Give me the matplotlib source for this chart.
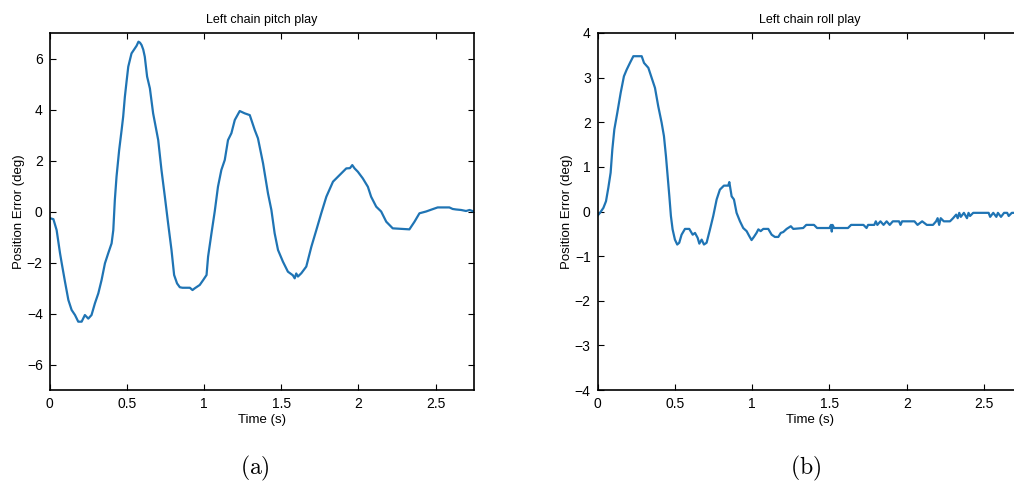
import matplotlib
matplotlib.use("Agg")
import matplotlib.pyplot as plt

plt.rcParams['font.family'] = ['Liberation Sans', 'DejaVu Sans']
plt.rcParams['mathtext.fontset'] = 'cm'

# pitch play (a)
pitch_t = [0.006, 0.024, 0.045, 0.067, 0.078, 0.099, 0.121, 0.142, 0.164, 0.185,
           0.207, 0.228, 0.25, 0.271, 0.293, 0.315, 0.336, 0.358, 0.379, 0.401,
           0.412, 0.422, 0.433, 0.45, 0.466, 0.476, 0.487, 0.498, 0.509, 0.53,
           0.552, 0.563, 0.575, 0.585, 0.595, 0.606, 0.616, 0.631, 0.649, 0.67,
           0.703, 0.724, 0.746, 0.767, 0.789, 0.806, 0.825, 0.843, 0.86, 0.908,
           0.925, 0.94, 0.972, 0.994, 1.016, 1.026, 1.048, 1.069, 1.09, 1.112,
           1.134, 1.155, 1.177, 1.199, 1.231, 1.263, 1.296, 1.328, 1.349, 1.382,
           1.414, 1.436, 1.457, 1.479, 1.511, 1.543, 1.575, 1.587, 1.597, 1.608,
           1.63, 1.662, 1.695, 1.727, 1.759, 1.792, 1.835, 1.878, 1.921, 1.945,
           1.96, 1.975, 1.996, 2.028, 2.061, 2.082, 2.115, 2.147, 2.18, 2.222,
           2.33, 2.363, 2.395, 2.438, 2.475, 2.513, 2.589, 2.61, 2.632, 2.665,
           2.697, 2.72, 2.747]
pitch_v = [-0.27, -0.3, -0.73, -1.64, -2.03, -2.75, -3.47, -3.86, -4.06, -4.32,
           -4.32, -4.06, -4.2, -4.06, -3.6, -3.21, -2.69, -2.03, -1.64, -1.25,
           -0.73, 0.45, 1.37, 2.41, 3.2, 3.72, 4.5, 5.1, 5.68, 6.2,
           6.4, 6.5, 6.66, 6.62, 6.53, 6.35, 6.07, 5.29, 4.83, 3.85,
           2.8, 1.63, 0.58, -0.46, -1.51, -2.49, -2.82, -2.97, -2.99, -2.99,
           -3.08, -3.01, -2.88, -2.69, -2.49, -1.77, -0.85, 0.0, 0.97, 1.63,
           2.02, 2.8, 3.07, 3.59, 3.94, 3.85, 3.78, 3.2, 2.87, 1.89,
           0.71, 0.06, -0.85, -1.51, -1.97, -2.36, -2.5, -2.62, -2.43, -2.55,
           -2.42, -2.16, -1.38, -0.73, -0.07, 0.58, 1.17, 1.43, 1.69, 1.7,
           1.82, 1.69, 1.56, 1.3, 0.97, 0.58, 0.19, 0.0, -0.4, -0.66,
           -0.7, -0.4, -0.07, 0.0, 0.08, 0.16, 0.16, 0.1, 0.08, 0.06,
           0.02, 0.06, 0.0]

# roll play (b)
roll_t = [0.0, 0.015, 0.037, 0.054, 0.069, 0.084, 0.095, 0.108, 0.127, 0.149,
          0.17, 0.188, 0.209, 0.231, 0.285, 0.3, 0.328, 0.35, 0.371, 0.392,
          0.414, 0.429, 0.442, 0.453, 0.464, 0.474, 0.485, 0.5, 0.515, 0.528,
          0.543, 0.565, 0.593, 0.615, 0.63, 0.647, 0.658, 0.673, 0.688, 0.705,
          0.727, 0.748, 0.77, 0.791, 0.817, 0.845, 0.852, 0.867, 0.882, 0.899,
          0.921, 0.942, 0.964, 0.981, 0.996, 1.011, 1.028, 1.04, 1.055, 1.072,
          1.104, 1.126, 1.147, 1.169, 1.185, 1.201, 1.223, 1.25, 1.266, 1.33,
          1.35, 1.40, 1.42, 1.50, 1.51, 1.515, 1.52, 1.53, 1.62, 1.64,
          1.72, 1.74, 1.75, 1.79, 1.80, 1.81, 1.83, 1.85, 1.87, 1.89,
          1.91, 1.95, 1.96, 1.97, 2.05, 2.07, 2.10, 2.13, 2.17, 2.19,
          2.20, 2.21, 2.22, 2.24, 2.28, 2.30, 2.32, 2.33, 2.34, 2.35,
          2.37, 2.39, 2.40, 2.41, 2.43, 2.53, 2.54, 2.56, 2.58, 2.59,
          2.61, 2.63, 2.65, 2.66, 2.68, 2.75]
roll_v = [-0.09, -0.03, 0.08, 0.23, 0.53, 0.87, 1.39, 1.84, 2.21, 2.66,
          3.03, 3.18, 3.33, 3.48, 3.48, 3.33, 3.22, 2.99, 2.77, 2.36,
          1.99, 1.69, 1.24, 0.79, 0.34, -0.1, -0.4, -0.63, -0.74, -0.7,
          -0.52, -0.39, -0.39, -0.52, -0.48, -0.59, -0.72, -0.63, -0.74, -0.7,
          -0.4, -0.1, 0.27, 0.49, 0.58, 0.58, 0.66, 0.34, 0.27, -0.03,
          -0.22, -0.37, -0.44, -0.55, -0.64, -0.57, -0.48, -0.4, -0.44, -0.39,
          -0.39, -0.52, -0.57, -0.57, -0.48, -0.46, -0.39, -0.33, -0.39, -0.37,
          -0.3, -0.3, -0.37, -0.37, -0.3, -0.45, -0.3, -0.37, -0.37, -0.3,
          -0.3, -0.37, -0.3, -0.3, -0.22, -0.3, -0.22, -0.3, -0.22, -0.3,
          -0.22, -0.22, -0.3, -0.22, -0.22, -0.3, -0.22, -0.3, -0.3, -0.22,
          -0.15, -0.3, -0.15, -0.22, -0.22, -0.15, -0.07, -0.15, -0.03, -0.12,
          -0.03, -0.15, -0.03, -0.1, -0.03, -0.03, -0.12, -0.03, -0.12, -0.03,
          -0.12, -0.03, -0.03, -0.1, -0.03, -0.03]

line_color = '#1f74b4'

fig = plt.figure(figsize=(10.14, 4.86), dpi=100)
ax1 = fig.add_axes([0.049, 0.1975, 0.4187, 0.7346])
ax2 = fig.add_axes([0.5894, 0.1975, 0.4191, 0.7346])

for ax in (ax1, ax2):
    ax.tick_params(direction='in', top=True, right=True, length=4, width=0.8,
                   labelsize=10, pad=5)
    for sp in ax.spines.values():
        sp.set_linewidth(1.2)
    ax.set_xlim(0, 2.75)
    ax.set_xticks([0, 0.5, 1, 1.5, 2, 2.5])
    ax.set_xticklabels(['0', '0.5', '1', '1.5', '2', '2.5'])
    ax.set_xlabel('Time (s)', fontsize=9.5, labelpad=2)
    ax.set_ylabel('Position Error (deg)', fontsize=9.5, labelpad=1)

ax1.plot(pitch_t, pitch_v, color=line_color, lw=1.6)
ax1.set_ylim(-7, 7)
ax1.set_yticks([-6, -4, -2, 0, 2, 4, 6])
ax1.set_title('Left chain pitch play', fontsize=9, pad=7)

ax2.plot(roll_t, roll_v, color=line_color, lw=1.6)
ax2.set_ylim(-4, 4)
ax2.set_yticks([-4, -3, -2, -1, 0, 1, 2, 3, 4])
ax2.set_title('Left chain roll play', fontsize=9, pad=7)

fig.text(0.2515, 0.037, r'$\mathrm{(a)}$', fontsize=17, ha='center', va='center')
fig.text(0.794, 0.037, r'$\mathrm{(b)}$', fontsize=17, ha='center', va='center')

fig.savefig('out.png', dpi=100)
